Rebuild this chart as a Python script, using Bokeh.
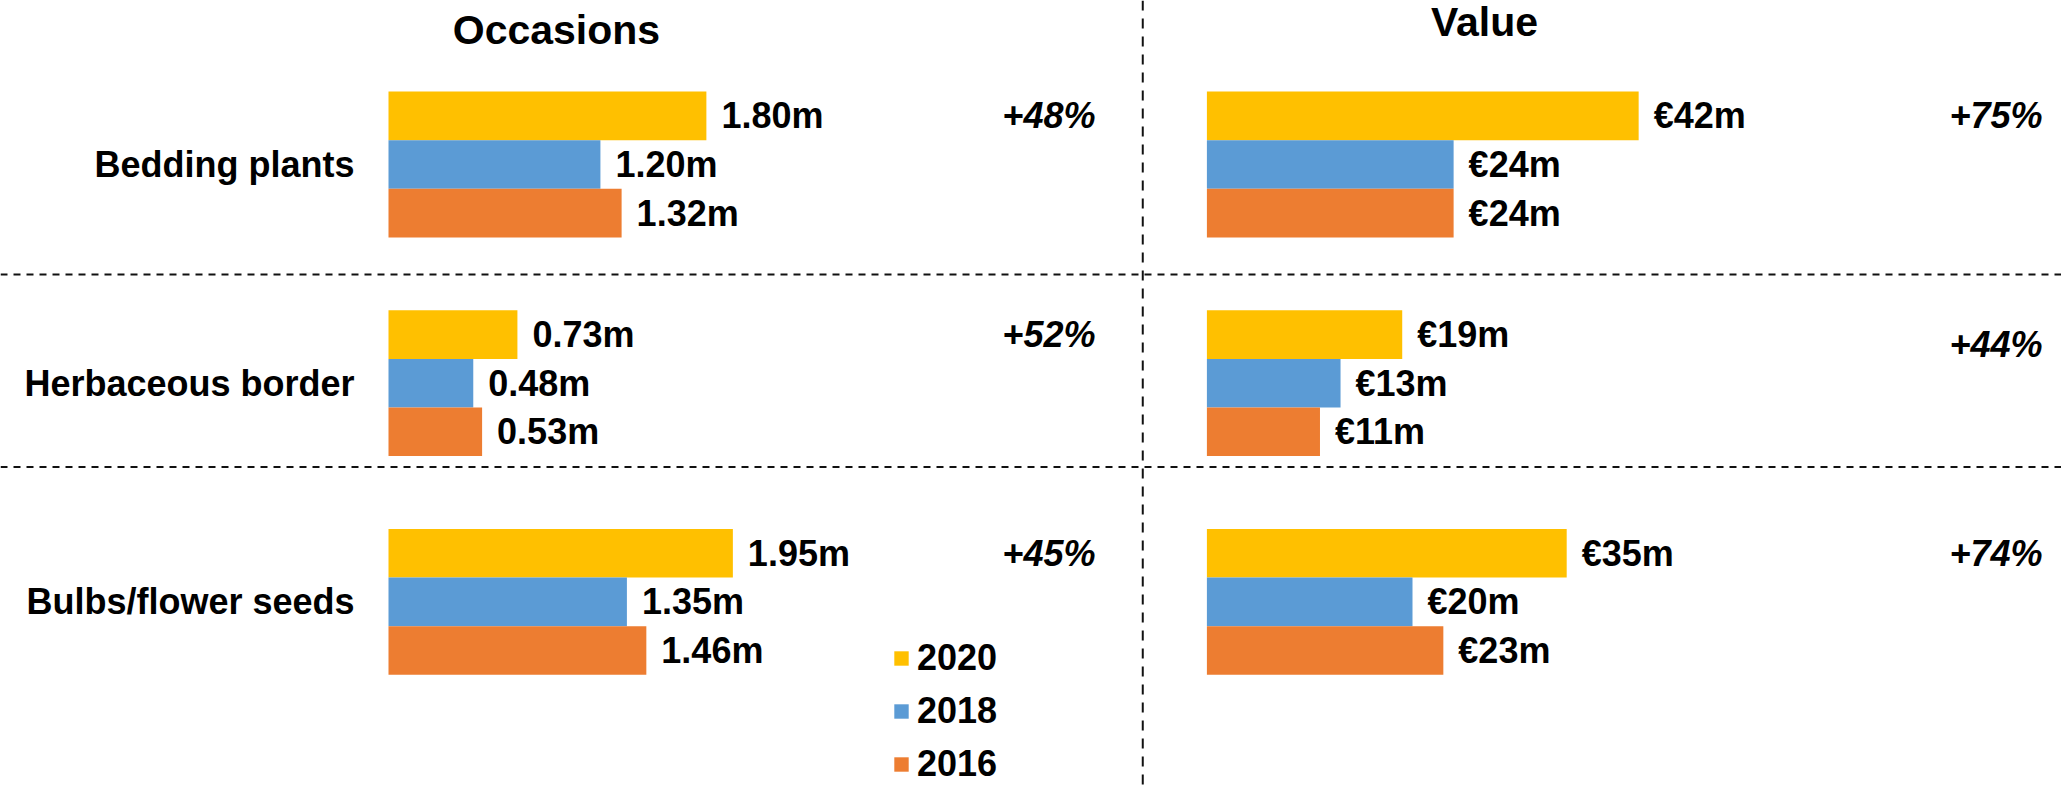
from bokeh.plotting import figure
from bokeh.models import Range1d, Legend, LegendItem, ColumnDataSource, Span
from bokeh.transform import dodge
from bokeh.core.properties import value
from bokeh.embed import file_html
from bokeh.resources import INLINE

# ---- data ----
categories = ["Bedding plants", "Herbaceous border", "Bulbs/flower seeds"]
years = ["2020", "2018", "2016"]
occasions_2020 = [1.80, 0.73, 1.95]
occasions_2018 = [1.20, 0.48, 1.35]
occasions_2016 = [1.32, 0.53, 1.46]
value_2020 = [42, 19, 35]
value_2018 = [24, 13, 20]
value_2016 = [24, 11, 23]
occasions_change = ["+48%", "+52%", "+45%"]
value_change = ["+75%", "+44%", "+74%"]

colors = {"2020": "#FFC000", "2018": "#5B9BD5", "2016": "#ED7D31"}
occ_data = {"2020": occasions_2020, "2018": occasions_2018, "2016": occasions_2016}
val_data = {"2020": value_2020, "2018": value_2018, "2016": value_2016}

# ---- layout constants ----
FONT_NAME = "Liberation Sans"
FONT = value(FONT_NAME)
W, H = 2061, 786
OCC_PX, OCC_ZERO = 176.6, 388.0      # px per unit, px of zero
VAL_PX, VAL_ZERO = 10.28, 1206.4
BAR_PX, Y_ZERO = 48.6, 164.0          # px per bar slot, px of first group centre
GROUP_STEP = 4.5                      # bar slots between group centres
year_shift = {"2020": 1, "2018": 0, "2016": -1}
val_chg_nudge = [0, 10, 0]            # pixel nudges of the value-change labels

group_pos = [-i * GROUP_STEP for i in range(len(categories))]

p = figure(width=W, height=H, output_backend="svg", toolbar_location=None,
           x_range=Range1d(-OCC_ZERO / OCC_PX, (W - OCC_ZERO) / OCC_PX),
           y_range=Range1d(-(H - Y_ZERO) / BAR_PX, Y_ZERO / BAR_PX),
           x_axis_location=None, y_axis_location=None,
           min_border=0, outline_line_color=None)
p.extra_x_ranges = {"value": Range1d(-VAL_ZERO / VAL_PX, (W - VAL_ZERO) / VAL_PX)}
p.grid.grid_line_color = None
p.background_fill_color = "white"

# dividers
for loc in (-2.263, -6.224):
    p.add_layout(Span(location=loc, dimension="width", line_color="#111111",
                      line_width=2, line_dash="7 6"))
p.add_layout(Span(location=4.271, dimension="height", line_color="#111111",
                  line_width=2, line_dash="10 8"))

label_kw = dict(text_font=FONT, text_font_style="bold", text_font_size="36px",
                text_color="black", text_baseline="middle")

legend_items = []
for yr in years:
    src = ColumnDataSource(dict(
        pos=group_pos,
        occ=occ_data[yr],
        val=val_data[yr],
        occ_label=[f"{v:.2f}m" for v in occ_data[yr]],
        val_label=[f"€{v:.0f}m" for v in val_data[yr]],
    ))
    ypos = dodge("pos", year_shift[yr])
    r = p.hbar(y=ypos, left=0, right="occ", height=1.0, source=src,
               fill_color=colors[yr], line_color=None)
    p.hbar(y=ypos, left=0, right="val", height=1.0, source=src,
           fill_color=colors[yr], line_color=None, x_range_name="value")
    p.text(x="occ", y=ypos, text="occ_label", source=src, x_offset=15,
           text_align="left", **label_kw)
    p.text(x="val", y=ypos, text="val_label", source=src, x_offset=15,
           text_align="left", x_range_name="value", **label_kw)
    legend_items.append(LegendItem(label=yr, renderers=[r]))

# category labels and change labels
cat_src = ColumnDataSource(dict(pos=group_pos, cat=categories,
                                occ_chg=occasions_change, val_chg=value_change,
                                nudge=val_chg_nudge))
p.text(x=-0.1925, y="pos", text="cat", source=cat_src, text_align="right", **label_kw)

pct_kw = dict(label_kw)
pct_kw["text_font_style"] = "bold italic"
p.text(x=4.003, y=dodge("pos", 1), text="occ_chg", source=cat_src,
       text_align="right", **pct_kw)
p.text(x=81.28, y=dodge("pos", 1), text="val_chg", source=cat_src, y_offset="nudge",
       text_align="right", x_range_name="value", **pct_kw)

# panel titles
p.text(x=[0.951], y=[2.76], text=["Occasions"],
       text_align="center", text_baseline="alphabetic", text_font=FONT,
       text_font_style="bold", text_font_size="41px", text_color="black")
p.text(x=[27.0], y=[2.93], text=["Value"],
       text_align="center", text_baseline="alphabetic", text_font=FONT,
       text_font_style="bold", text_font_size="41px", text_color="black",
       x_range_name="value")

legend = Legend(items=legend_items, location=(892, 1),
                glyph_width=18, glyph_height=18, label_standoff=7, spacing=11,
                padding=0, margin=0, border_line_color=None, background_fill_alpha=0,
                label_text_font=FONT_NAME, label_text_font_size="36px",
                label_text_font_style="bold", label_text_color="black")
p.add_layout(legend)

open("out.html", "w").write(file_html(p, INLINE))
